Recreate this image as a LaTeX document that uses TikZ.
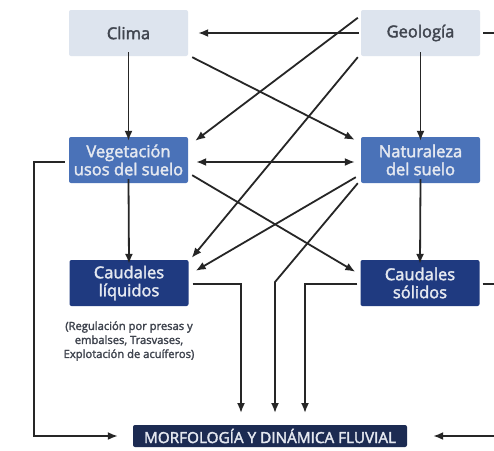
\documentclass[tikz,border=0pt]{standalone}
\usepackage{fontspec}
\setmainfont{Open Sans}
\usetikzlibrary{arrows.meta,calc}
\definecolor{lightbox}{HTML}{DDE4EE}
\definecolor{midblue}{HTML}{4A72B8}
\definecolor{navy}{HTML}{1F3A80}
\definecolor{darknavy}{HTML}{1C2B52}
\definecolor{darktext}{HTML}{40454F}
\definecolor{lighttext}{HTML}{E4E8F0}
\definecolor{linecol}{HTML}{262626}
\newfontfamily\boxfont[FakeBold=2.2]{Open Sans}
\newfontfamily\notefont[FakeBold=2.2]{Open Sans}
\begin{document}
\begin{tikzpicture}[x=1pt,y=-1pt,
  box/.style={rounded corners=2pt,minimum width=119pt,minimum height=46pt,inner sep=0pt,align=center,font=\boxfont\fontsize{16.5}{18}\selectfont},
  topbox/.style={box,fill=lightbox,text=darktext},
  midbox/.style={box,fill=midblue,text=lighttext},
  lowbox/.style={box,fill=navy,text=lighttext},
  conn/.style={draw=linecol,line width=1.8pt},
  arr/.style={conn,-{Latex[length=10pt,width=8pt]}},
  darr/.style={conn,{Latex[length=10pt,width=8pt]}-{Latex[length=10pt,width=8pt]}},
  note/.style={align=center,text=darktext,font=\notefont\fontsize{11.2}{14}\selectfont}
]
\useasboundingbox[fill=white] (0,0) rectangle (494,450);
\node[topbox] (clima) at (128.5,33) {Clima};
\node[topbox] (geo) at (420.5,33) {Geología};
\node[midbox] (veg) at (128.5,160) {Vegetación\\usos del suelo};
\node[midbox] (nat) at (420.5,160) {Naturaleza\\del suelo};
\node[lowbox] (liq) at (129,283) {Caudales\\líquidos};
\node[lowbox] (sol) at (420,283) {Caudales\\sólidos};
\node[rounded corners=2pt,fill=darknavy,text=lighttext,minimum width=274pt,minimum height=22pt,inner sep=0pt,font=\boxfont\fontsize{15.3}{16}\selectfont] (morf) at (270,436) {MORFOLOGÍA Y DINÁMICA FLUVIAL};
\node[note] (nota) at (129,341) {(Regulación por presas y\\embalses, Trasvases,\\Explotación de acuíferos)};

% coordinates for free ends
\coordinate (rgeo) at (494,33);
\coordinate (rsol) at (494,284);
\coordinate (rmorf) at (494,436);

% top row
\draw[arr] ([xshift=-2pt]geo.west) -- ([xshift=10pt]clima.east);
\draw[arr] ([yshift=4pt]clima.south) -- ([yshift=-4pt]veg.north);
\draw[arr] ([yshift=4pt]geo.south) -- ([yshift=-4pt]nat.north);
\draw[arr] ([shift={(4,1)}]clima.south east) -- ([shift={(-6,3)}]nat.north west);
\draw[arr] ([shift={(-3,8)}]geo.north west) -- ([shift={(7,4)}]veg.north east);
\draw[arr] ([shift={(-3,1)}]geo.south west) -- ([shift={(3,-2)}]liq.north east);
\draw[conn] ([xshift=3pt]geo.east) -- (rgeo);

% middle row
\draw[darr] ([shift={(8,2)}]veg.east) -- ([shift={(-6,2)}]nat.west);
\draw[arr] ([yshift=4pt]veg.south) -- ([yshift=-4pt]liq.north);
\draw[arr] ([yshift=4pt]nat.south) -- ([yshift=-4pt]sol.north);
\draw[arr] ([shift={(4,-8)}]veg.south east) -- ([shift={(-5,12)}]sol.north west);
\draw[arr] ([shift={(-5,-6)}]nat.south west) -- ([shift={(7,11)}]liq.north east);
\draw[arr] ([shift={(-3,0)}]nat.south west) -- (275,282) -- (275,413);
\draw[arr] ([shift={(-4,2)}]veg.west) -- (34,162) -- (34,436) -- ([xshift=-15pt]morf.west);

% lower row
\draw[arr] ([shift={(4,1)}]liq.east) -- (241,284) -- (241,413);
\draw[arr] ([shift={(-3,1)}]sol.west) -- (305,284) -- (305,413);
\draw[conn] ([shift={(3,1)}]sol.east) -- (rsol);
\draw[arr] (rmorf) -- ([xshift=26pt]morf.east);
\end{tikzpicture}
\end{document}
